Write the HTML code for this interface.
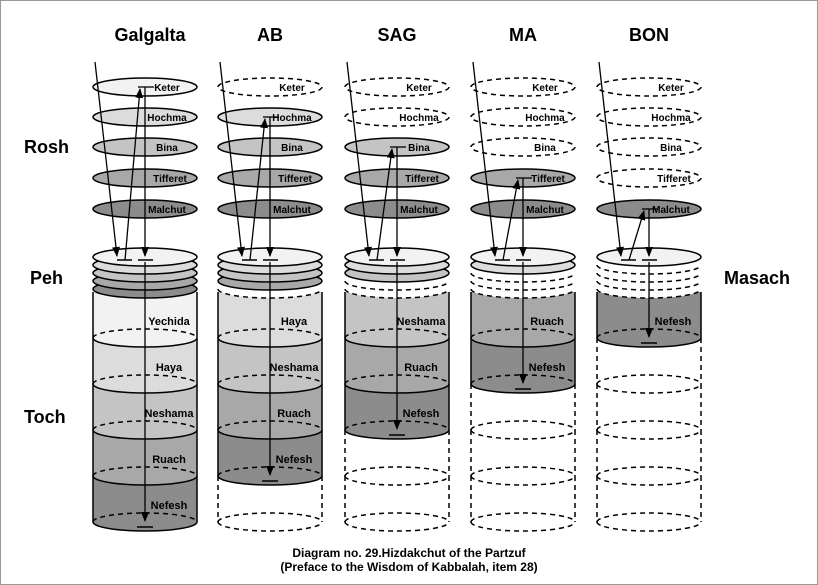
<!DOCTYPE html>
<html><head><meta charset="utf-8"><style>
html,body{margin:0;padding:0;background:#fff}
svg{display:block}
text{font-family:"Liberation Sans",Arial,sans-serif;font-weight:bold}
</style></head><body>
<svg id="s" width="818" height="585" viewBox="0 0 818 585" xmlns="http://www.w3.org/2000/svg">
<defs>
<marker id="ah" markerWidth="10" markerHeight="10" refX="9" refY="4" orient="auto" markerUnits="userSpaceOnUse">
<path d="M0,0 L10,4 L0,8 Z" fill="#000"/></marker>
</defs>
<rect x="0.5" y="0.5" width="817" height="584" fill="#fff" stroke="#999"/>
<text x="150" y="41" font-size="18" text-anchor="middle">Galgalta</text>
<text x="270" y="41" font-size="18" text-anchor="middle">AB</text>
<text x="397" y="41" font-size="18" text-anchor="middle">SAG</text>
<text x="523" y="41" font-size="18" text-anchor="middle">MA</text>
<text x="649" y="41" font-size="18" text-anchor="middle">BON</text>
<text x="24" y="153" font-size="18">Rosh</text>
<text x="30" y="284" font-size="18">Peh</text>
<text x="24" y="423" font-size="18">Toch</text>
<text x="724" y="284" font-size="18">Masach</text>
<text x="409" y="557" font-size="12" text-anchor="middle">Diagram no. 29.Hizdakchut of the Partzuf</text>
<text x="409" y="571" font-size="12" text-anchor="middle">(Preface to the Wisdom of Kabbalah, item 28)</text>
<g id="g"></g>
</svg>
<script>
var NS="http://www.w3.org/2000/svg",G=document.getElementById("g");
function el(t,a,txt){var e=document.createElementNS(NS,t);for(var k in a)e.setAttribute(k,a[k]);if(txt)e.textContent=txt;G.appendChild(e);return e;}
var cxs=[145,270,397,523,649],RX=52,RY=9;
var shade=["#f2f2f2","#dcdcdc","#c4c4c4","#a8a8a8","#8c8c8c"];
var rosh=["Keter","Hochma","Bina","Tifferet","Malchut"],ry=[87,117,147,178,209];
var body=["Yechida","Haya","Neshama","Ruach","Nefesh"];
var D="5,4";
cxs.forEach(function(cx,i){
 var L=cx-RX,R=cx+RX,nf=5-i;
 // body sections bottom-up
 for(var k=4;k>=0;k--){var yt=292+46*k,yb=yt+46;
  if(k<nf){el("rect",{x:L,y:yt,width:2*RX,height:46,fill:shade[i+k]});
   el("ellipse",{cx:cx,cy:yb,rx:RX,ry:RY,fill:shade[i+k]});}}
 for(var k=0;k<5;k++){var yt=292+46*k,yb=yt+46,f=k<nf;
  var st={stroke:"#000","stroke-width":1.5,fill:"none"};
  var ds={stroke:"#000","stroke-width":1.5,fill:"none","stroke-dasharray":D};
  el("line",Object.assign({x1:L,y1:yt,x2:L,y2:yb},f?st:ds));
  el("line",Object.assign({x1:R,y1:yt,x2:R,y2:yb},f?st:ds));
  el("path",Object.assign({d:"M"+L+","+yb+" A"+RX+","+RY+" 0 0 1 "+R+","+yb},ds));
  el("path",Object.assign({d:"M"+L+","+yb+" A"+RX+","+RY+" 0 0 0 "+R+","+yb},f?st:ds));
  if(f)el("text",{x:cx+24,y:yt+33,"font-size":11,"text-anchor":"middle"},body[i+k]);
 }
 // peh disks
 for(var d=4;d>=0;d--){var y=257+8*d;
  if(d<nf)el("ellipse",{cx:cx,cy:y,rx:RX,ry:RY,fill:d==0?"#f2f2f2":shade[Math.min(d,4)],stroke:"#000","stroke-width":1.5});
  else{el("ellipse",{cx:cx,cy:y,rx:RX,ry:RY,fill:"#fff",stroke:"none"});
   el("path",{d:"M"+L+","+y+" A"+RX+","+RY+" 0 0 0 "+R+","+y,fill:"none",stroke:"#000","stroke-width":1.5,"stroke-dasharray":D});}
 }
 // rosh
 for(var j=0;j<5;j++){var f=j>=i;
  el("ellipse",{cx:cx,cy:ry[j],rx:RX,ry:RY,fill:f?shade[j]:"#fff",stroke:"#000","stroke-width":1.5,"stroke-dasharray":f?"none":D});
  el("text",{x:cx+22+(j==3?3:0),y:ry[j]+4,"font-size":10,"text-anchor":"middle"},rosh[j]);}
 // rays
 var yl=ry[i];
 el("line",{x1:cx-50,y1:62,x2:cx-28,y2:256,stroke:"#000","stroke-width":1.3,"marker-end":"url(#ah)"});
 el("line",{x1:cx-20,y1:260,x2:cx-5,y2:yl+2,stroke:"#000","stroke-width":1.3,"marker-end":"url(#ah)"});
 el("line",{x1:cx-7,y1:yl,x2:cx+9,y2:yl,stroke:"#000","stroke-width":1.3});
 el("line",{x1:cx,y1:yl,x2:cx,y2:256,stroke:"#000","stroke-width":1.3,"marker-end":"url(#ah)"});
 el("line",{x1:cx-28,y1:260,x2:cx-13,y2:260,stroke:"#000","stroke-width":1.5});
 el("line",{x1:cx-7,y1:260,x2:cx+8,y2:260,stroke:"#000","stroke-width":1.5});
 var yb=292+46*nf;
 el("line",{x1:cx,y1:262,x2:cx,y2:yb-1,stroke:"#000","stroke-width":1.3,"marker-end":"url(#ah)"});
 el("line",{x1:cx-8,y1:yb+5,x2:cx+8,y2:yb+5,stroke:"#000","stroke-width":1.5});
});
</script>
</body></html>
